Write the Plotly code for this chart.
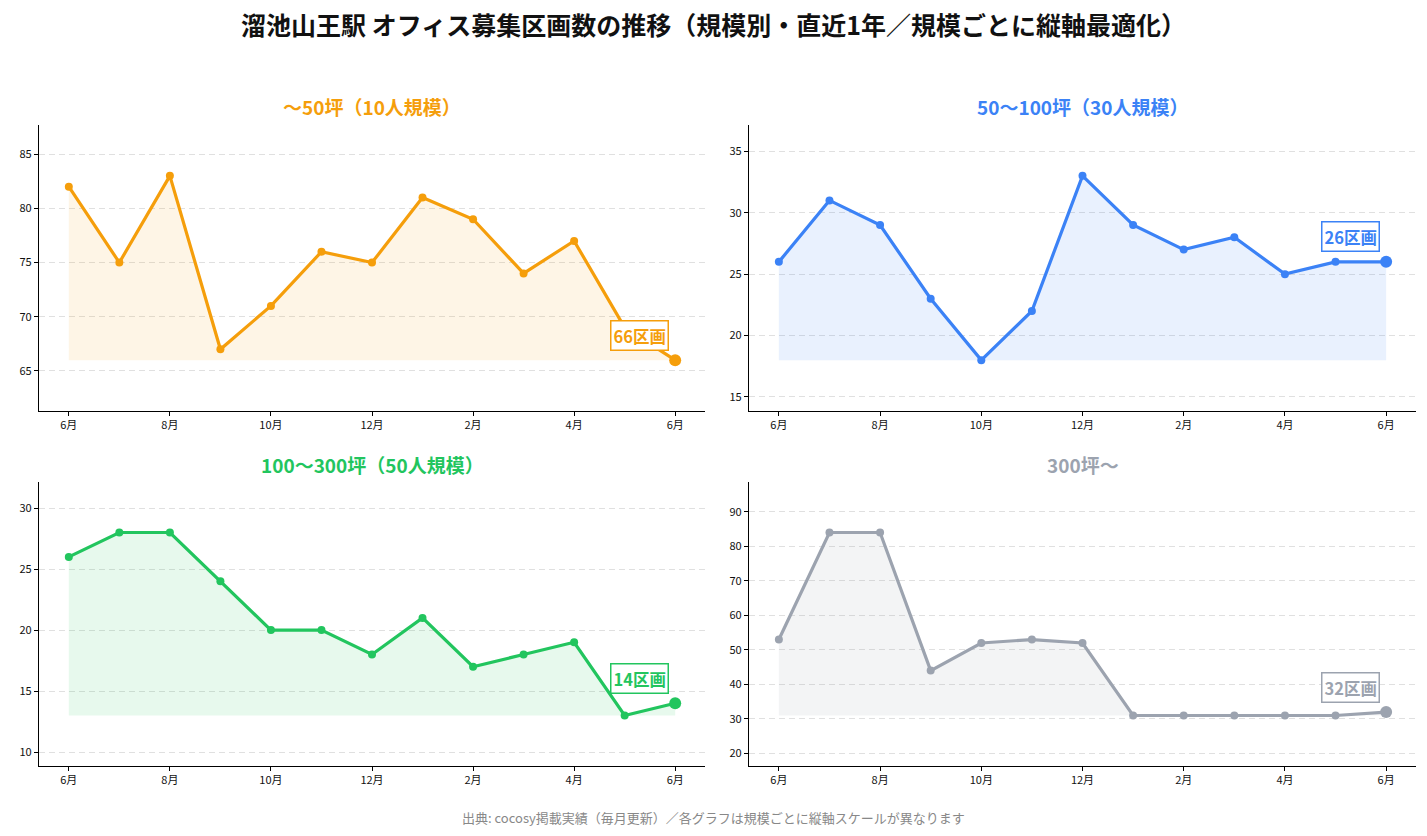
import plotly.graph_objects as go

# ---- data ----
months = ["6月", "7月", "8月", "9月", "10月", "11月", "12月", "1月", "2月", "3月", "4月", "5月", "6月"]
tick_idx = [0, 2, 4, 6, 8, 10, 12]
tick_labels = ["6月", "8月", "10月", "12月", "2月", "4月", "6月"]

titles = ["〜50坪（10人規模）", "50〜100坪（30人規模）", "100〜300坪（50人規模）", "300坪〜"]
s_50 = [82, 75, 83, 67, 71, 76, 75, 81, 79, 74, 77, 69, 66]
s_100 = [26, 31, 29, 23, 18, 22, 33, 29, 27, 28, 25, 26, 26]
s_300 = [26, 28, 28, 24, 20, 20, 18, 21, 17, 18, 19, 13, 14]
s_over = [53, 84, 84, 44, 52, 53, 52, 31, 31, 31, 31, 31, 32]
series = [s_50, s_100, s_300, s_over]
dticks = [5, 5, 5, 10]
colors = ["#f59e0b", "#3b82f6", "#22c55e", "#9ca3af"]
fills = ["rgba(245,158,11,0.10)", "rgba(59,130,246,0.11)", "rgba(34,197,94,0.11)", "rgba(156,163,175,0.12)"]

W, H = 1427, 836
FONT = "Noto Sans CJK JP"

# pixel boxes of the four panels: (left, right, top, bottom)
boxes = [(39, 705, 125, 411), (749, 1416, 125, 411), (39, 705, 482, 766), (749, 1416, 482, 766)]

x_idx = list(range(len(months)))
fig = go.Figure()
layout = {}
annotations = []

for i, (ys, col, fc, dt, ttl, box) in enumerate(zip(series, colors, fills, dticks, titles, boxes)):
    n = i + 1
    xa = "x" if n == 1 else f"x{n}"
    ya = "y" if n == 1 else f"y{n}"
    lo = min(ys)
    hi = max(ys)
    r = hi - lo
    pad = 0.276 * r
    # baseline for fill
    fig.add_trace(go.Scatter(x=x_idx, y=[lo] * len(ys), mode="lines", line=dict(width=0, color=fc),
                             hoverinfo="skip", showlegend=False, xaxis=xa, yaxis=ya))
    fig.add_trace(go.Scatter(x=x_idx, y=ys, mode="lines+markers", fill="tonexty", fillcolor=fc,
                             line=dict(color=col, width=3.2), marker=dict(color=col, size=8),
                             showlegend=False, xaxis=xa, yaxis=ya, text=months))
    fig.add_trace(go.Scatter(x=[x_idx[-1]], y=[ys[-1]], mode="markers", marker=dict(color=col, size=12),
                             showlegend=False, xaxis=xa, yaxis=ya))
    l, rgt, t, b = box
    xd = [l / W, rgt / W]
    yd = [1 - b / H, 1 - t / H]
    kx = "xaxis" if n == 1 else f"xaxis{n}"
    ky = "yaxis" if n == 1 else f"yaxis{n}"
    layout[kx] = dict(domain=xd, anchor=ya, range=[-0.59, 12.59], tickmode="array", tickvals=tick_idx,
                      ticktext=tick_labels, showgrid=False, zeroline=False, showline=True,
                      linecolor="#000000", linewidth=1.2, ticks="outside", ticklen=4, tickwidth=1,
                      tickcolor="#000000", tickfont=dict(size=11, color="#111111", family=FONT))
    layout[ky] = dict(domain=yd, anchor=xa, range=[lo - pad, hi + pad], dtick=dt, tick0=0,
                      showgrid=True, gridcolor="#e0e0e0", griddash="6px,4px", gridwidth=1, zeroline=False,
                      showline=True, linecolor="#000000", linewidth=1.2, ticks="outside", ticklen=4,
                      tickwidth=1, tickcolor="#000000", tickfont=dict(size=11, color="#111111", family=FONT))
    # subplot title
    annotations.append(dict(text=f"<b>{ttl}</b>", x=(xd[0] + xd[1]) / 2, y=1 - (t - 18) / H,
                            xref="paper", yref="paper", showarrow=False, xanchor="center", yanchor="middle",
                            font=dict(size=19, color=col, family=FONT)))
    # last value label
    annotations.append(dict(text=f"<b>{ys[-1]}区画</b>", x=x_idx[-1], y=ys[-1], xref=xa, yref=ya,
                            showarrow=False, xshift=-36, yshift=25, xanchor="center", yanchor="middle",
                            bgcolor="#ffffff", bordercolor=col, borderwidth=1.5, borderpad=2,
                            font=dict(size=16.5, color=col, family=FONT)))

annotations.append(dict(text="<b>溜池山王駅 オフィス募集区画数の推移（規模別・直近1年／規模ごとに縦軸最適化）</b>",
                        x=0.5, y=1 - 24 / H, xref="paper", yref="paper", showarrow=False,
                        xanchor="center", yanchor="middle", font=dict(size=25, color="#111111", family=FONT)))
annotations.append(dict(text="出典: cocosy掲載実績（毎月更新）／各グラフは規模ごとに縦軸スケールが異なります",
                        x=0.5, y=1 - 817 / H, xref="paper", yref="paper", showarrow=False,
                        xanchor="center", yanchor="middle", font=dict(size=13, color="#888888", family=FONT)))

fig.update_layout(width=W, height=H, margin=dict(l=0, r=0, t=0, b=0), plot_bgcolor="#ffffff",
                  paper_bgcolor="#ffffff", annotations=annotations, font=dict(family=FONT), **layout)

fig.write_html("out.html")
